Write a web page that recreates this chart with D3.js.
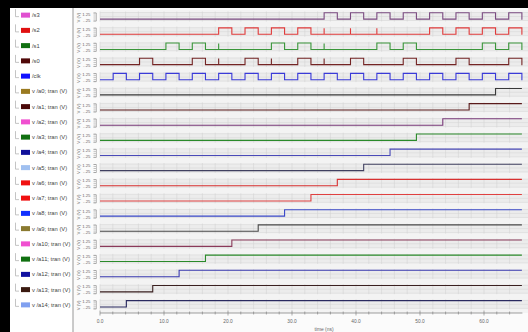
<!DOCTYPE html>
<html>
<head>
<meta charset="utf-8">
<script src="https://cdn.jsdelivr.net/npm/d3@7"></script>
<style>
  body { margin: 0; background: #fff; }
  text { font-family: "Liberation Sans", Arial, sans-serif; }
</style>
</head>
<body>
<svg id="chart" width="528" height="332"></svg>
<script>
// signal names, top to bottom
const names = ['/s3', '/s2', '/s1', '/s0', '/clk',
  'v /a0; tran (V)', 'v /a1; tran (V)', 'v /a2; tran (V)', 'v /a3; tran (V)', 'v /a4; tran (V)',
  'v /a5; tran (V)', 'v /a6; tran (V)', 'v /a7; tran (V)', 'v /a8; tran (V)', 'v /a9; tran (V)',
  'v /a10; tran (V)', 'v /a11; tran (V)', 'v /a12; tran (V)', 'v /a13; tran (V)', 'v /a14; tran (V)'];
const swatchColors = ['#e050d0', '#e01010', '#107010', '#500808', '#1010ff',
  '#9a7a20', '#4a0808', '#f050d0', '#107010', '#10109a',
  '#a0c0f0', '#f01010', '#f01010', '#1030ff', '#8a7a30',
  '#f050d0', '#107010', '#1010a0', '#3a1a10', '#80a0f0'];
const traceColors = ['#7a4a80', '#e03a3a', '#3a963a', '#742424', '#3a3ad8',
  '#3a3a3a', '#5a1a1a', '#7a3a7a', '#2a8a2a', '#4a4ab8',
  '#404060', '#d83030', '#e04040', '#3a48c8', '#4a4a4a',
  '#8a3a5a', '#2a8a2a', '#3a3ab0', '#3a2020', '#2a2a60'];

// clock toggle times (ns), starts low
const clkEdges = [2.06, 4.12, 6.18, 8.24, 10.30, 12.36, 14.42, 16.48, 18.54, 20.60,
  22.66, 24.72, 26.78, 28.84, 30.90, 32.96, 35.02, 37.08, 39.14, 41.20,
  43.26, 45.32, 47.38, 49.44, 51.50, 53.56, 55.62, 57.68, 59.74, 61.80, 63.86, 65.92];

// select lines: [rise, fall] pulses and glitch spikes (ns)
const s3Pulses = [[35.02, 37.08], [39.14, 41.20], [43.26, 45.32], [47.38, 49.44],
  [51.50, 53.56], [55.62, 57.68], [59.74, 61.80], [63.86, 65.92]];
const s3Glitches = [];
const s2Pulses = [[18.54, 20.60], [22.66, 24.72], [26.78, 28.84], [30.90, 32.96],
  [51.50, 53.56], [55.62, 57.68], [59.74, 61.80], [63.86, 65.92]];
const s2Glitches = [35.02, 39.14, 43.26];
const s1Pulses = [[10.30, 12.36], [14.42, 16.48], [26.78, 28.84], [30.90, 32.96],
  [43.26, 45.32], [47.38, 49.44], [59.74, 61.80], [63.86, 65.92]];
const s1Glitches = [18.54, 35.02];
const s0Pulses = [[6.18, 8.24], [14.42, 16.48], [22.66, 24.72], [30.90, 32.96],
  [39.14, 41.20], [47.38, 49.44], [55.62, 57.68], [63.86, 65.92]];
const s0Glitches = [18.54, 26.78, 35.02];

// a0..a14: time each output steps high (ns)
const aRise = [61.80, 57.68, 53.56, 49.44, 45.32, 41.20, 37.08, 32.96, 28.84, 24.72,
  20.60, 16.48, 12.36, 8.24, 4.12];

const highV = 1.2;
const tEnd = 66;
const xTicks = [0, 10, 20, 30, 40, 50, 60];
const xMinor = d3.range(0, 66, 2);
const stripTicks = [-0.25, 0.125, 0.5, 0.875, 1.25];

function pulseWave(pulses, glitches) {
  const ev = [];
  pulses.forEach(p => ev.push({t: p[0], k: 'p', f: p[1]}));
  glitches.forEach(g => ev.push({t: g, k: 'g'}));
  ev.sort((a, b) => a.t - b.t);
  const pts = [[0, 0]];
  ev.forEach(e => {
    if (e.k === 'p') pts.push([e.t, 0], [e.t, highV], [e.f, highV], [e.f, 0]);
    else pts.push([e.t, 0], [e.t, highV * 0.95], [e.t, 0]);
  });
  pts.push([tEnd, 0]);
  return pts;
}
function clkWave(edges) {
  const pts = [[0, 0]];
  let v = 0;
  edges.forEach(t => { pts.push([t, v]); v = v ? 0 : highV; pts.push([t, v]); });
  pts.push([tEnd, v]);
  return pts;
}
function stepWave(t) {
  return [[0, 0], [t, 0], [t, highV], [65.92, highV]];
}

const waves = [
  pulseWave(s3Pulses, s3Glitches),
  pulseWave(s2Pulses, s2Glitches),
  pulseWave(s1Pulses, s1Glitches),
  pulseWave(s0Pulses, s0Glitches),
  clkWave(clkEdges)
].concat(aRise.map(stepWave));

const svg = d3.select('#chart');
const W = 528, H = 332;

const x = d3.scaleLinear().domain([0, tEnd]).range([100, 522.4]);
const band = d3.scaleBand().domain(names).range([10, 313]);
const legY = d3.scaleBand().domain(names).range([7.5, 312.5]);

// plot background
svg.append('rect').attr('x', 73).attr('y', 0).attr('width', W - 73).attr('height', H).attr('fill', '#fbfbfb');
svg.append('rect').attr('x', 100).attr('y', 10).attr('width', 428).attr('height', 303).attr('fill', '#f3f3f3');

const strips = svg.append('g');
names.forEach((n, i) => {
  const top = band(n);
  const y = d3.scaleLinear().domain([-0.25, 1.25]).range([top + 10.5, top + 2.5]);
  const g = strips.append('g');

  g.append('rect').attr('x', 100).attr('y', y(1.25)).attr('width', 428)
    .attr('height', y(-0.25) - y(1.25)).attr('fill', '#ececec');
  g.selectAll('.hg').data([1.25, 0.5, -0.25]).enter().append('line')
    .attr('x1', 100).attr('x2', 528).attr('y1', d => y(d)).attr('y2', d => y(d))
    .attr('stroke', '#d6d6d6').attr('stroke-width', 0.6);
  g.selectAll('.vg').data(xMinor).enter().append('line')
    .attr('x1', d => x(d)).attr('x2', d => x(d)).attr('y1', y(1.25) - 1).attr('y2', y(-0.25) + 1)
    .attr('stroke', '#d4d4d4').attr('stroke-width', 0.6);

  // tiny y axis
  const ax = g.append('g').attr('transform', 'translate(96,0)')
    .call(d3.axisLeft(y).tickValues(stripTicks).tickSize(2.5).tickFormat(''));
  ax.select('.domain').attr('stroke', '#888').attr('stroke-width', 0.5);
  ax.selectAll('line').attr('stroke', '#888').attr('stroke-width', 0.5);

  g.append('text').attr('x', 90.5).attr('y', top + 5.6).attr('text-anchor', 'end')
    .attr('font-size', 4.3).attr('fill', '#666').text('1.25');
  g.append('text').attr('x', 90.5).attr('y', top + 11.6).attr('text-anchor', 'end')
    .attr('font-size', 4.3).attr('fill', '#666').text('-.25');
  g.append('text').attr('transform', `translate(79.5,${top + 7.6}) rotate(-90)`)
    .attr('text-anchor', 'middle').attr('font-size', 4.3).attr('fill', '#777').text('V (V)');

  const line = d3.line().x(d => x(d[0])).y(d => y(d[1]));
  g.append('path').datum(waves[i]).attr('d', line)
    .attr('fill', 'none').attr('stroke', traceColors[i]).attr('stroke-width', 1.1);
});

// x axis
const xa = svg.append('g').attr('transform', 'translate(0,313)');
xa.append('line').attr('x1', x(0)).attr('x2', x(tEnd)).attr('stroke', '#777').attr('stroke-width', 0.7);
xa.selectAll('.mt').data(xMinor).enter().append('line')
  .attr('x1', d => x(d)).attr('x2', d => x(d))
  .attr('y1', d => d % 10 === 0 ? -2.5 : -1.5).attr('y2', d => d % 10 === 0 ? 2.5 : 1.5)
  .attr('stroke', '#777').attr('stroke-width', 0.6);
xa.selectAll('.tl').data(xTicks).enter().append('text')
  .attr('x', d => x(d)).attr('y', 9.5).attr('text-anchor', 'middle')
  .attr('font-size', 4.8).attr('fill', '#666').text(d => d.toFixed(1));
svg.append('text').attr('x', 324).attr('y', 330.5).attr('text-anchor', 'middle')
  .attr('font-size', 4.9).attr('fill', '#666').text('time (ns)');

// legend panel
svg.append('rect').attr('x', 0).attr('y', 0).attr('width', 73).attr('height', H).attr('fill', '#fff');
svg.append('line').attr('x1', 73).attr('x2', 73).attr('y1', 0).attr('y2', H)
  .attr('stroke', '#a8a8a8').attr('stroke-width', 1.2);
const leg = svg.append('g');
names.forEach((n, i) => {
  const cy = legY(n) + legY.bandwidth() / 2;
  leg.append('path').attr('d', `M15.5,${cy - 6}V${cy + 1.5}H19`)
    .attr('fill', 'none').attr('stroke', '#aaa').attr('stroke-width', 0.7);
  leg.append('rect').attr('x', 21).attr('y', cy - 2.5).attr('width', 9).attr('height', 5)
    .attr('fill', swatchColors[i]);
  leg.append('text').attr('x', 32).attr('y', cy + 2).attr('font-size', 5.8)
    .attr('fill', '#444').text(n);
});

// window frame
svg.append('rect').attr('x', 0).attr('y', 0).attr('width', W).attr('height', 8).attr('fill', '#000');
svg.append('rect').attr('x', 0).attr('y', 0).attr('width', 10).attr('height', H).attr('fill', '#000');
</script>
</body>
</html>
